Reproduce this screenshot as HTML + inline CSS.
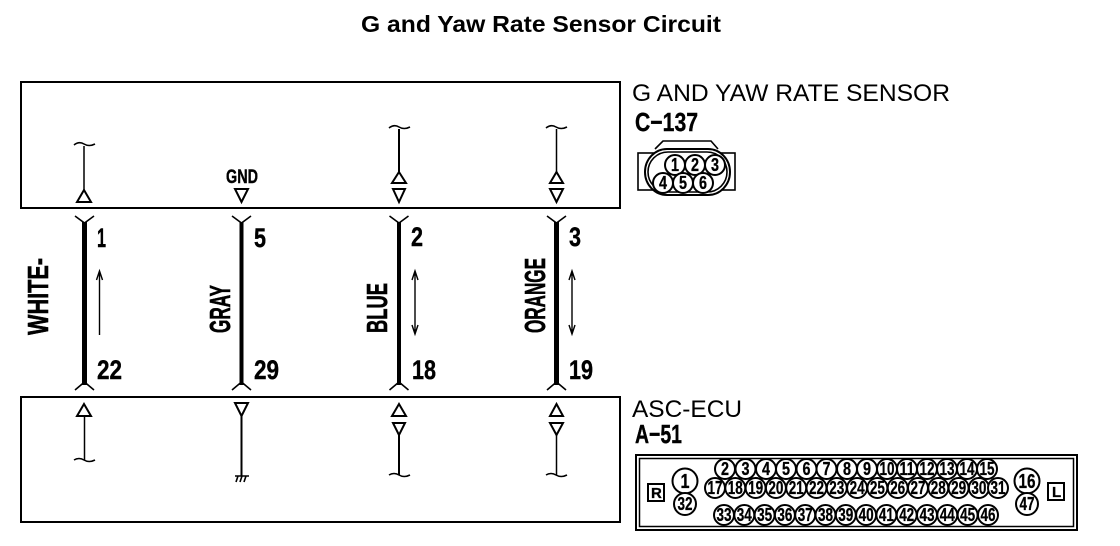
<!DOCTYPE html>
<html>
<head>
<meta charset="utf-8">
<style>
html,body{margin:0;padding:0;background:#fff;}
svg{display:block;}
text{font-family:"Liberation Sans",sans-serif;fill:#000;}
.n{font-weight:bold;font-size:27px;stroke:#000;stroke-width:.4;}
.v{font-weight:bold;font-size:29px;stroke:#000;stroke-width:.6;}
.p text{font-weight:bold;font-size:18px;text-anchor:middle;stroke:#000;stroke-width:.3;}
.p circle{fill:#fff;stroke:#000;stroke-width:2;}
.t{fill:#fff;stroke:#000;stroke-width:2;}
.l{fill:none;stroke:#000;stroke-width:2;}
.f{fill:none;stroke:#000;stroke-width:1.6;}
</style>
</head>
<body>
<svg width="1120" height="546" viewBox="0 0 1120 546" xmlns="http://www.w3.org/2000/svg">
<text x="361" y="32" font-size="23" font-weight="bold" textLength="360" lengthAdjust="spacingAndGlyphs">G and Yaw Rate Sensor Circuit</text>

<rect x="21" y="82" width="599" height="126" fill="none" stroke="#000" stroke-width="2"/>
<rect x="21" y="397" width="599" height="125" fill="none" stroke="#000" stroke-width="2"/>

<!-- top box details -->
<g class="l">
<path d="M84 146V190" stroke-width="1.5"/>
<path d="M74 145q5-4 10-1t11 0" stroke-width="1.6"/>
<path d="M399 129V172"/>
<path d="M389 128q5-4 10-1t11 0" stroke-width="1.6"/>
<path d="M556.500 129V172" stroke-width="1.5"/>
<path d="M546 128q5-4 10-1t11 0" stroke-width="1.6"/>
</g>
<path class="t" d="M84 190L91 202H77Z"/>
<path class="t" d="M235 189H248L241.500 202Z"/>
<path class="t" d="M399 172L406 183H392Z"/>
<path class="t" d="M393 189H405L399 202Z"/>
<path class="t" d="M556.500 172L563 183H550Z"/>
<path class="t" d="M550 189H563L556.500 202Z"/>
<text x="226" y="183" font-size="19" font-weight="bold" textLength="32" lengthAdjust="spacingAndGlyphs" stroke="#000" stroke-width=".4">GND</text>

<!-- wires -->
<g stroke="#000" fill="none">
<path d="M84.500 222V385" stroke-width="5"/>
<path d="M241.500 222V385" stroke-width="4"/>
<path d="M399 222V385" stroke-width="4"/>
<path d="M556.500 222V385" stroke-width="5"/>
</g>
<g class="f">
<path d="M75 216L84.500 223L94 216M75 390L84.500 382L94 390"/>
<path d="M232 216L241.500 223L251 216M232 390L241.500 382L251 390"/>
<path d="M389.500 216L399 223L408.500 216M389.500 390L399 382L408.500 390"/>
<path d="M547 216L556.500 223L566 216M547 390L556.500 382L566 390"/>
</g>

<!-- pin numbers -->
<text class="n" x="97" y="247" textLength="9" lengthAdjust="spacingAndGlyphs">1</text>
<text class="n" x="254" y="247" textLength="12" lengthAdjust="spacingAndGlyphs">5</text>
<text class="n" x="411" y="246" textLength="12" lengthAdjust="spacingAndGlyphs">2</text>
<text class="n" x="569" y="246" textLength="12" lengthAdjust="spacingAndGlyphs">3</text>
<text class="n" x="97" y="379" textLength="25" lengthAdjust="spacingAndGlyphs">22</text>
<text class="n" x="254" y="379" textLength="25" lengthAdjust="spacingAndGlyphs">29</text>
<text class="n" x="412" y="379" textLength="24" lengthAdjust="spacingAndGlyphs">18</text>
<text class="n" x="569" y="379" textLength="24" lengthAdjust="spacingAndGlyphs">19</text>

<!-- wire colour labels -->
<text class="v" transform="translate(48,335) rotate(-90)" textLength="77" lengthAdjust="spacingAndGlyphs">WHITE-</text>
<text class="v" transform="translate(230,333) rotate(-90)" textLength="48" lengthAdjust="spacingAndGlyphs">GRAY</text>
<text class="v" transform="translate(387,333) rotate(-90)" textLength="50" lengthAdjust="spacingAndGlyphs">BLUE</text>
<text class="v" transform="translate(545,333) rotate(-90)" textLength="75" lengthAdjust="spacingAndGlyphs">ORANGE</text>

<!-- direction arrows -->
<g fill="none" stroke="#000" stroke-width="1.4">
<path d="M99.500 271V335M96.500 280L99.500 271L102.500 280"/>
<path d="M415 271V334M412 280L415 271L418 280M412 325L415 334L418 325"/>
<path d="M572 271V334M569 280L572 271L575 280M569 325L572 334L575 325"/>
</g>

<!-- bottom box details -->
<path class="t" d="M84 404L91 416H77Z"/>
<path class="t" d="M235 403H248L241.500 416Z"/>
<path class="t" d="M399 404L406 416H392Z"/>
<path class="t" d="M393 423H405L399 435Z"/>
<path class="t" d="M556.500 404L563 416H550Z"/>
<path class="t" d="M550 423H563L556.500 435Z"/>
<g class="l">
<path d="M84.500 416V460" stroke-width="1.5"/>
<path d="M74 460q5-3 10 0t11 0" stroke-width="1.6"/>
<path d="M241.500 416V476"/>
<path d="M235 476H249M236 482L238 476M240 482L242 476M244 482L246 476" stroke-width="1.6"/>
<path d="M399 435V475"/>
<path d="M389 475q5-3 10 0t11 0" stroke-width="1.6"/>
<path d="M556.500 435V475" stroke-width="1.5"/>
<path d="M546 475q5-3 10 0t11 0" stroke-width="1.6"/>
</g>

<!-- labels -->
<text x="632" y="101" font-size="24.500" textLength="318" lengthAdjust="spacingAndGlyphs">G AND YAW RATE SENSOR</text>
<text x="635" y="131" font-size="26" font-weight="bold" textLength="63" lengthAdjust="spacingAndGlyphs" stroke="#000" stroke-width=".4">C−137</text>
<text x="632" y="417" font-size="24.500" textLength="110" lengthAdjust="spacingAndGlyphs">ASC-ECU</text>
<text x="635" y="443" font-size="26" font-weight="bold" textLength="47" lengthAdjust="spacingAndGlyphs" stroke="#000" stroke-width=".4">A−51</text>

<!-- C-137 connector -->
<g fill="none" stroke="#000" stroke-width="1.6">
<path d="M655 149L663 141H711L718 149"/>
<rect x="638" y="153" width="97" height="37" fill="#fff"/>
<rect x="645" y="149" width="85" height="46" rx="22" ry="23" fill="#fff" stroke-width="2"/>
<rect x="648" y="152" width="79" height="40" rx="20" ry="20"/>
</g>
<g class="p">
<circle cx="675" cy="165" r="10"/><circle cx="695" cy="165" r="10"/><circle cx="715" cy="165" r="10"/>
<circle cx="663" cy="183" r="10"/><circle cx="683" cy="183" r="10"/><circle cx="703" cy="183" r="10"/>
<text x="675" y="171" textLength="8" lengthAdjust="spacingAndGlyphs">1</text><text x="695" y="171" textLength="8" lengthAdjust="spacingAndGlyphs">2</text><text x="715" y="171" textLength="8" lengthAdjust="spacingAndGlyphs">3</text>
<text x="663" y="189" textLength="8" lengthAdjust="spacingAndGlyphs">4</text><text x="683" y="189" textLength="8" lengthAdjust="spacingAndGlyphs">5</text><text x="703" y="189" textLength="8" lengthAdjust="spacingAndGlyphs">6</text>
</g>

<!-- A-51 connector -->
<rect x="636" y="455" width="441" height="75" fill="none" stroke="#000" stroke-width="2"/>
<rect x="639.500" y="458.500" width="434" height="68" fill="none" stroke="#000" stroke-width="1.500"/>
<rect x="648" y="484" width="16" height="17" fill="none" stroke="#000" stroke-width="2"/>
<text x="651" y="498" font-size="15" font-weight="bold" stroke="#000" stroke-width=".3">R</text>
<rect x="1048" y="483" width="16" height="17" fill="none" stroke="#000" stroke-width="2"/>
<text x="1052" y="497" font-size="15" font-weight="bold" stroke="#000" stroke-width=".3">L</text>

<g class="p">
<circle cx="685" cy="481" r="12.500"/><text x="685" y="488" style="font-size:20px" textLength="9" lengthAdjust="spacingAndGlyphs">1</text>
<circle cx="685" cy="504" r="11"/><text x="685" y="510" textLength="15" lengthAdjust="spacingAndGlyphs">32</text>
<circle cx="1027" cy="481" r="12.500"/><text x="1027" y="488" style="font-size:20px" textLength="17" lengthAdjust="spacingAndGlyphs">16</text>
<circle cx="1027" cy="504" r="11"/><text x="1027" y="510" textLength="15" lengthAdjust="spacingAndGlyphs">47</text>

<g>
<circle cx="725" cy="469" r="10"/><circle cx="745.500" cy="469" r="10"/><circle cx="766" cy="469" r="10"/><circle cx="786" cy="469" r="10"/><circle cx="806.500" cy="469" r="10"/><circle cx="826.500" cy="469" r="10"/><circle cx="847" cy="469" r="10"/><circle cx="867" cy="469" r="10"/><circle cx="887" cy="469" r="10"/><circle cx="907" cy="469" r="10"/><circle cx="927" cy="469" r="10"/><circle cx="947" cy="469" r="10"/><circle cx="967" cy="469" r="10"/><circle cx="987" cy="469" r="10"/>
<text x="725" y="475" textLength="8" lengthAdjust="spacingAndGlyphs">2</text><text x="745.500" y="475" textLength="8" lengthAdjust="spacingAndGlyphs">3</text><text x="766" y="475" textLength="8" lengthAdjust="spacingAndGlyphs">4</text><text x="786" y="475" textLength="8" lengthAdjust="spacingAndGlyphs">5</text><text x="806.500" y="475" textLength="8" lengthAdjust="spacingAndGlyphs">6</text><text x="826.500" y="475" textLength="8" lengthAdjust="spacingAndGlyphs">7</text><text x="847" y="475" textLength="8" lengthAdjust="spacingAndGlyphs">8</text><text x="867" y="475" textLength="8" lengthAdjust="spacingAndGlyphs">9</text>
<text x="887" y="475" textLength="15" lengthAdjust="spacingAndGlyphs">10</text><text x="907" y="475" textLength="15" lengthAdjust="spacingAndGlyphs">11</text><text x="927" y="475" textLength="15" lengthAdjust="spacingAndGlyphs">12</text><text x="947" y="475" textLength="15" lengthAdjust="spacingAndGlyphs">13</text><text x="967" y="475" textLength="15" lengthAdjust="spacingAndGlyphs">14</text><text x="987" y="475" textLength="15" lengthAdjust="spacingAndGlyphs">15</text>

<circle cx="715" cy="488" r="10"/><circle cx="735.300" cy="488" r="10"/><circle cx="755.600" cy="488" r="10"/><circle cx="775.900" cy="488" r="10"/><circle cx="796.200" cy="488" r="10"/><circle cx="816.500" cy="488" r="10"/><circle cx="836.800" cy="488" r="10"/><circle cx="857.100" cy="488" r="10"/><circle cx="877.400" cy="488" r="10"/><circle cx="897.700" cy="488" r="10"/><circle cx="918" cy="488" r="10"/><circle cx="938.300" cy="488" r="10"/><circle cx="958.600" cy="488" r="10"/><circle cx="978.900" cy="488" r="10"/><circle cx="998" cy="488" r="10"/>
<text x="715" y="494" textLength="15" lengthAdjust="spacingAndGlyphs">17</text><text x="735.300" y="494" textLength="15" lengthAdjust="spacingAndGlyphs">18</text><text x="755.600" y="494" textLength="15" lengthAdjust="spacingAndGlyphs">19</text><text x="775.900" y="494" textLength="15" lengthAdjust="spacingAndGlyphs">20</text><text x="796.200" y="494" textLength="15" lengthAdjust="spacingAndGlyphs">21</text><text x="816.500" y="494" textLength="15" lengthAdjust="spacingAndGlyphs">22</text><text x="836.800" y="494" textLength="15" lengthAdjust="spacingAndGlyphs">23</text><text x="857.100" y="494" textLength="15" lengthAdjust="spacingAndGlyphs">24</text><text x="877.400" y="494" textLength="15" lengthAdjust="spacingAndGlyphs">25</text><text x="897.700" y="494" textLength="15" lengthAdjust="spacingAndGlyphs">26</text><text x="918" y="494" textLength="15" lengthAdjust="spacingAndGlyphs">27</text><text x="938.300" y="494" textLength="15" lengthAdjust="spacingAndGlyphs">28</text><text x="958.600" y="494" textLength="15" lengthAdjust="spacingAndGlyphs">29</text><text x="978.900" y="494" textLength="15" lengthAdjust="spacingAndGlyphs">30</text><text x="998" y="494" textLength="15" lengthAdjust="spacingAndGlyphs">31</text>

<circle cx="724" cy="515" r="10"/><circle cx="744.300" cy="515" r="10"/><circle cx="764.600" cy="515" r="10"/><circle cx="784.900" cy="515" r="10"/><circle cx="805.200" cy="515" r="10"/><circle cx="825.500" cy="515" r="10"/><circle cx="845.800" cy="515" r="10"/><circle cx="866.100" cy="515" r="10"/><circle cx="886.400" cy="515" r="10"/><circle cx="906.700" cy="515" r="10"/><circle cx="927" cy="515" r="10"/><circle cx="947.300" cy="515" r="10"/><circle cx="967.600" cy="515" r="10"/><circle cx="988" cy="515" r="10"/>
<text x="724" y="521" textLength="15" lengthAdjust="spacingAndGlyphs">33</text><text x="744.300" y="521" textLength="15" lengthAdjust="spacingAndGlyphs">34</text><text x="764.600" y="521" textLength="15" lengthAdjust="spacingAndGlyphs">35</text><text x="784.900" y="521" textLength="15" lengthAdjust="spacingAndGlyphs">36</text><text x="805.200" y="521" textLength="15" lengthAdjust="spacingAndGlyphs">37</text><text x="825.500" y="521" textLength="15" lengthAdjust="spacingAndGlyphs">38</text><text x="845.800" y="521" textLength="15" lengthAdjust="spacingAndGlyphs">39</text><text x="866.100" y="521" textLength="15" lengthAdjust="spacingAndGlyphs">40</text><text x="886.400" y="521" textLength="15" lengthAdjust="spacingAndGlyphs">41</text><text x="906.700" y="521" textLength="15" lengthAdjust="spacingAndGlyphs">42</text><text x="927" y="521" textLength="15" lengthAdjust="spacingAndGlyphs">43</text><text x="947.300" y="521" textLength="15" lengthAdjust="spacingAndGlyphs">44</text><text x="967.600" y="521" textLength="15" lengthAdjust="spacingAndGlyphs">45</text><text x="988" y="521" textLength="15" lengthAdjust="spacingAndGlyphs">46</text>
</g>
</g>
</svg>
</body>
</html>
